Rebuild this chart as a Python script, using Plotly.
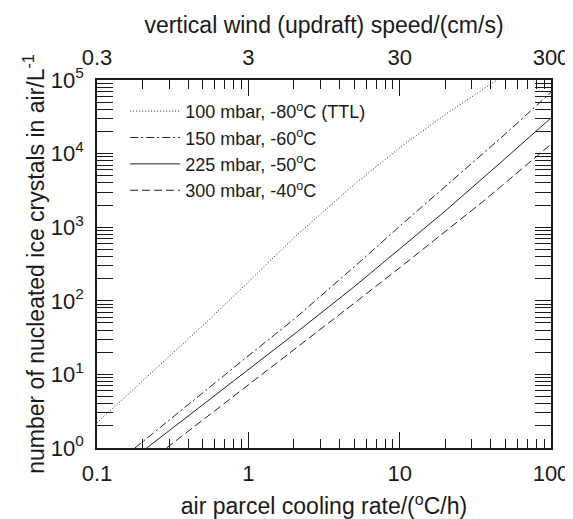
import plotly.graph_objects as go

# Data (cooling rate in degC/h, crystals per litre)
x_100 = [0.1, 0.2, 0.5, 1, 2, 5, 10, 20, 44]
y_100 = [2.2, 8.2, 46, 180, 720, 3800, 12000, 34000, 100000]

x_150 = [0.178, 0.3, 0.5, 1, 2, 5, 10, 20, 50, 100]
y_150 = [1, 2.4, 5.6, 17.9, 56, 288, 1030, 3590, 18500, 68000]

x_225 = [0.213, 0.3, 0.5, 1, 2, 5, 10, 20, 50, 100]
y_225 = [1, 1.72, 3.85, 11.5, 34.9, 155, 504, 1660, 8630, 30500]

x_300 = [0.288, 0.5, 1, 2, 5, 10, 20, 35, 50, 100]
y_300 = [1, 2.39, 7.15, 21.4, 92.6, 281, 863, 2180, 4020, 13400]

names = ["100 mbar, -80<sup>o</sup>C (TTL)",
         "150 mbar, -60<sup>o</sup>C",
         "225 mbar, -50<sup>o</sup>C",
         "300 mbar, -40<sup>o</sup>C"]

x_ticks = [0.1, 1, 10, 100]
x_ticktext = ["0.1", "1", "10", "100"]
top_ticks = [0.3, 3, 30, 300]
top_ticktext = ["0.3", "3", "30", "300"]
y_ticks = [1, 10, 100, 1000, 10000, 100000]
y_ticktext = ["10<sup>0</sup>", "10<sup>1</sup>", "10<sup>2</sup>",
              "10<sup>3</sup>", "10<sup>4</sup>", "10<sup>5</sup>"]

x_minor = [m * 10.0 ** e for e in range(-1, 2) for m in range(2, 10)]
y_minor = [m * 10.0 ** e for e in range(0, 5) for m in range(2, 10)]

FONT = "Liberation Sans, Arial, sans-serif"
INK = "#1a1a1a"

fig = go.Figure()
series = [(x_100, y_100, "1px,2px"), (x_150, y_150, "8px,3px,2px,3px"),
          (x_225, y_225, "solid"), (x_300, y_300, "8px,4px")]
for (xs, ys, dash), nm in zip(series, names):
    fig.add_trace(go.Scatter(x=xs, y=ys, mode="lines", name=nm,
                             line=dict(color="#222222", width=1, dash=dash)))

# dummy trace to carry the top axis
fig.add_trace(go.Scatter(x=[0.3, 300], y=[1, 1], xaxis="x2", mode="lines",
                         line=dict(width=0), opacity=0, showlegend=False,
                         hoverinfo="skip"))

fig.update_layout(
    width=573, height=519,
    margin=dict(l=89, r=21, t=72, b=67),
    paper_bgcolor="white", plot_bgcolor="white",
    font=dict(family=FONT, size=22, color=INK),
    showlegend=True,
    legend=dict(x=0.062, y=0.965, xanchor="left", yanchor="top",
                bgcolor="rgba(0,0,0,0)", borderwidth=0,
                itemwidth=50,
                font=dict(family=FONT, size=18, color=INK)),
    xaxis=dict(type="log", range=[-1, 2], tickmode="array",
               tickvals=x_ticks, ticktext=x_ticktext,
               ticks="inside", ticklen=16, tickwidth=1, tickcolor=INK,
               showline=True, linecolor=INK, linewidth=1.5,
               mirror="allticks", showgrid=False, zeroline=False,
               ticklabelstandoff=5,
               minor=dict(ticks="inside", ticklen=9, tickwidth=1,
                          tickcolor=INK, tickmode="array",
                          tickvals=x_minor, showgrid=False),
               title=dict(text="air parcel cooling rate/(<sup>o</sup>C/h)",
                          standoff=13, font=dict(size=23)),
               tickfont=dict(size=22)),
    xaxis2=dict(type="log", range=[-0.5229, 2.4771], overlaying="x",
                side="top", anchor="y", tickmode="array",
                tickvals=top_ticks, ticktext=top_ticktext, ticks="",
                showline=False, showgrid=False, zeroline=False,
                ticklabelstandoff=10,
                title=dict(text="vertical wind (updraft) speed/(cm/s)",
                           standoff=4, font=dict(size=23)),
                tickfont=dict(size=22)),
    yaxis=dict(type="log", range=[0, 5], tickmode="array",
               tickvals=y_ticks, ticktext=y_ticktext,
               ticks="inside", ticklen=16, tickwidth=1, tickcolor=INK,
               showline=True, linecolor=INK, linewidth=1.5,
               mirror="allticks", showgrid=False, zeroline=False,
               ticklabelstandoff=7,
               minor=dict(ticks="inside", ticklen=9, tickwidth=1,
                          tickcolor=INK, tickmode="array",
                          tickvals=y_minor, showgrid=False),
               title=dict(text="number of nucleated ice crystals in air/L<sup>-1</sup>",
                          standoff=0, font=dict(size=23)),
               tickfont=dict(size=22)),
)

fig.write_html("out.html")
